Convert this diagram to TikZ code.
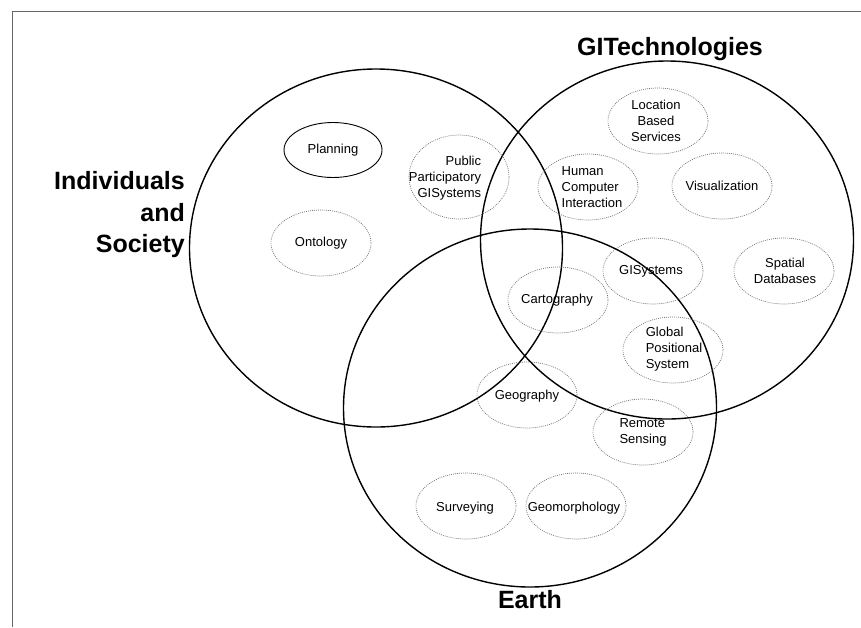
\documentclass[tikz,border=0pt]{standalone}
\usepackage{fontspec}
\setmainfont{Liberation Sans}
\usepackage{tikz}
\usetikzlibrary{shapes.geometric}
\tikzset{field/.style={draw, ellipse, line width=1.4pt, inner sep=0, outer sep=0, minimum width=373pt, minimum height=358pt}}
\tikzset{topic/.style={draw=black!55, line width=0.7pt, dash pattern=on 0.9pt off 1.1pt, ellipse, inner sep=0, minimum width=100pt, minimum height=66pt}}
\tikzset{topic text/.style={font=\fontsize{13}{16}\selectfont, inner sep=0}}
\tikzset{heading/.style={font=\bfseries\fontsize{25}{31.5}\selectfont, inner sep=0}}

\begin{document}
\begin{tikzpicture}[x=1pt, y=-1pt]
  \useasboundingbox (0, 0) rectangle (861, 627);
  \draw[black!60, line width=1pt] (12, 627) -- (12, 11) -- (861, 11);

  \node[field] at (376, 248) (society) {};
  \node[field] at (667, 240) (tech) {};
  \node[field] at (530, 408) (earth) {};

  \node[heading, align=right, anchor=east] at (185, 215) (society label) {Individuals\\and\\Society};
  \node[heading, anchor=base] at (670, 55) (tech label) {GITechnologies};
  \node[heading, anchor=base] at (530, 608) (earth label) {Earth};

  \node[topic, draw=black, solid, line width=0.9pt, minimum width=98pt, minimum height=55pt] at (333, 150) (planning) {};
  \node[topic text] at (planning) (planning text) {Planning};
  \node[topic] at (321, 243) (ontology) {};
  \node[topic text] at (ontology) (ontology text) {Ontology};
  \node[topic, minimum height=84pt] at (459, 177) (ppgis) {};
  \node[topic text, align=right] at (445, 178) (ppgis text) {Public\\Participatory\\GISystems};

  \node[topic] at (658, 121) (lbs) {};
  \node[topic text, align=center] at (656, 121) (lbs text) {Location\\Based\\Services};
  \node[topic] at (588, 187) (hci) {};
  \node[topic text, align=left] at (592, 187) (hci text) {Human\\Computer\\Interaction};
  \node[topic] at (722, 186) (visualization) {};
  \node[topic text] at (visualization) (visualization text) {Visualization};
  \node[topic] at (653, 271) (gisystems) {};
  \node[topic text] at (651, 271) (gisystems text) {GISystems};
  \node[topic] at (784, 271) (spatial) {};
  \node[topic text, align=center] at (785, 271) (spatial text) {Spatial\\Databases};

  \node[topic] at (558, 300) (cartography) {};
  \node[topic text] at (557, 300) (cartography text) {Cartography};
  \node[topic] at (673, 350) (gps) {};
  \node[topic text, align=left] at (674, 349) (gps text) {Global\\Positional\\System};
  \node[topic] at (527, 395) (geography) {};
  \node[topic text] at (527, 396) (geography text) {Geography};
  \node[topic] at (643, 432) (remote) {};
  \node[topic text, align=left] at (643, 432) (remote text) {Remote\\Sensing};
  \node[topic] at (466, 506) (surveying) {};
  \node[topic text] at (465, 508) (surveying text) {Surveying};
  \node[topic] at (576, 506) (geomorphology) {};
  \node[topic text] at (574, 508) (geomorphology text) {Geomorphology};
\end{tikzpicture}
\end{document}
